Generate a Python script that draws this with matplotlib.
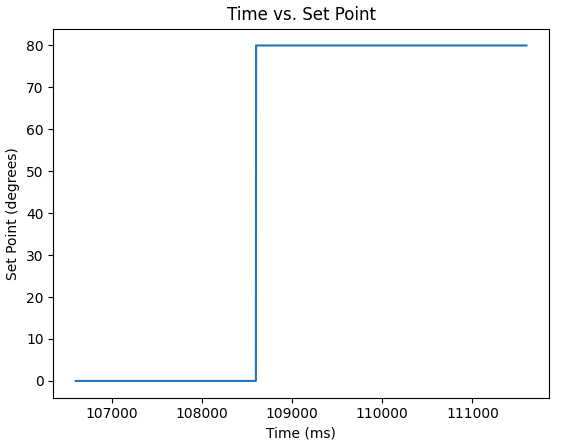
import matplotlib
matplotlib.use("Agg")
import matplotlib.pyplot as plt

# set point log (ms, degrees)
time_ms = [106600, 107100, 107600, 108100, 108598, 108600, 109100, 109600, 110100, 110600, 111100, 111600]
set_point = [0, 0, 0, 0, 0, 80, 80, 80, 80, 80, 80, 80]

fig = plt.figure(figsize=(5.67, 4.47), dpi=100)
ax = fig.add_axes([53.3/567, 1 - 397.7/447, 495.7/567, 369/447])
ax.plot(time_ms, set_point)
ax.set_title("Time vs. Set Point")
ax.set_xlabel("Time (ms)")
ax.set_ylabel("Set Point (degrees)")
ax.set_xticks([107000, 108000, 109000, 110000, 111000])

fig.savefig("out.png", dpi=100)
